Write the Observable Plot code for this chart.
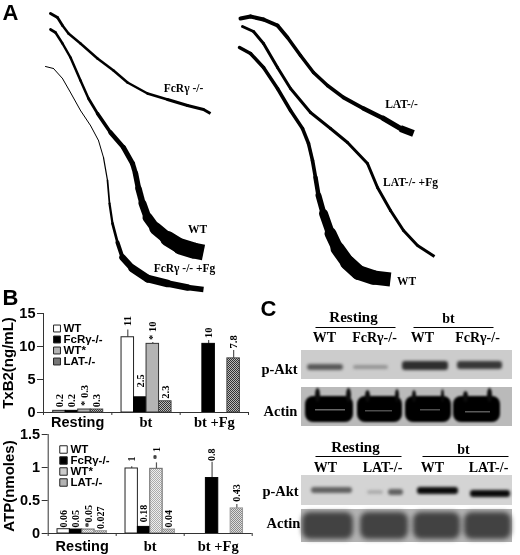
<!DOCTYPE html>
<html><head><meta charset="utf-8">
<script src="https://cdn.jsdelivr.net/npm/d3@7"></script>
<script src="https://cdn.jsdelivr.net/npm/@observablehq/plot@0.6"></script>
<style>
html,body{margin:0;padding:0;background:#fff}
#fig{position:relative;width:520px;height:555px;overflow:hidden;filter:blur(.3px)}
#fig svg{position:absolute;left:0;top:0;background:transparent;overflow:visible}
</style></head><body><div id="fig"></div>
<script>
// ---------- Panel A traces (x, y, thickness) ----------
const traceFcr = {x:[50,57,62,68,80,97,113,127,147,167,187,203,210],
                  y:[13,17,25,33,43,58,70,82,93,99,105,109,113],
                  w:[3,3,2.5,2.5,2.5,2.5,2.5,2.5,2.5,3,3,3,3]};
const traceWtA = {x:[50,55,62,70,80,88,97,110,123,132,135,138,142,147,155,167,180,193,203],
                  y:[29,32,43,57,80,98,113,132,147,163,173,188,203,217,228,238,246,250,252],
                  w:[3,2.5,2.5,2.5,2.5,2.5,3,4,5,5,5,6,7,9,11,14,16,16,16]};
const traceFcrFg = {x:[45,53,62,70,80,90,98,103,107,109,112,117,122,132,147,167,187,203],
                    y:[66,68,78,92,110,125,140,157,180,203,223,242,257,268,278,283,287,289],
                    w:[1,1,1,1,1,1,1,1,1.5,2,2.5,3,5,8,8,7,6,5]};
const traceLat = {x:[240,250,263,277,287,300,313,327,343,363,383,400,413],
                  y:[18,16,19,25,37,55,72,85,97,108,118,128,133],
                  w:[4,4,4,4,3.5,3.5,3.5,3.5,3.5,4,5,6,8]};
const traceLatFg = {x:[242,253,263,277,290,310,330,347,367,377,390,403,417,434],
                    y:[26,31,43,67,88,112,128,142,163,187,210,230,245,256],
                    w:[3,3,3,3,3,3,3,3,3,3,3,3,3,3]};
const traceWtB = {x:[239,250,263,277,290,302,308,312,315,318,323,330,337,347,358,373,390],
                  y:[47,53,67,88,110,128,143,160,177,195,213,233,248,262,272,277,279],
                  w:[3.5,3.5,3.5,3.5,3.5,3.5,3.5,3.5,4,5,7,11,13,15,15,14,14]};
const traceLabels = ["FcRγ -/-","WT","FcRγ -/- +Fg","LAT-/-","LAT-/- +Fg","WT"];
const traceLabelX = [183,197,184,401,410,406];
const traceLabelY = [88,229,268,104,182,281];

// ---------- Panel B ----------
const groups = ["Resting","bt","bt +Fg"];
const series = ["WT","FcRγ-/-","WT*","LAT-/-"];
const txb2      = [[0.25,0.25,0.45,0.45],[11.4,2.3,10.4,1.7],[null,10.4,null,8.2]];
const txb2Err   = [[null,null,null,null],[12.5,null,10.6,null],[null,10.9,null,9.4]];
const txb2Text  = [["0.2","0.2","* 0.3","0.3"],["11","2.5","* 10","2.3"],[null,"10",null,"7.8"]];
const txb2TextAt= [[0.8,0.8,1.0,0.8],[13.1,3.8,11,2.1],[null,11.3,null,9.7]];
const atp       = [[0.065,0.06,0.06,0.035],[0.985,0.1,0.98,0.06],[null,0.84,null,0.38]];
const atpErr    = [[null,null,null,null],[1.01,null,1.07,null],[null,1.08,null,0.44]];
const atpText   = [["0.06","0.05","*0.05","0.027"],["1","0.18","* 1","0.04"],[null,"0.8",null,"0.43"]];
const atpTextAt = [[0.09,0.09,0.09,0.07],[1.09,0.17,1.12,0.09],[null,1.1,null,0.48]];

// ---------- Panel C blots: [x1,x2,y1,y2,darkness] ----------
const blotBack = [[301,512,350,379,.2],[301,512,387,426,.27],[301,512,475,505,.17],[301,512,509,542,.3]];
const blotThin = [
 [307,343,364,370,.65],[353,388,365,369,.42],[402,448,361,370,.82],[457,502,361,369,.78],
 [311,352,487,493,.62],[367,383,490,494,.32],[388,403,489,495,.62],[417,458,487,494,.96],[470,510,490,497,.96]
];
const blotActinDark = [
 [305,353,396,422,1],[357,402,396,422,1],[405,451,396,422,1],[453,500,396,422,1],
 [315,320,388,402,.95],[346,351,388,402,.95],[365,370,390,402,.95],[395,399,389,402,.95],
 [412,416,390,402,.95],[441,444,389,402,.95],[463,468,391,402,.95],[487,492,388,402,.95]
];
const blotActinGrey = [[302,353,512,539,.74],[360,408,512,539,.74],[413,460,512,539,.74],[464,511,512,539,.74]];
const blotStreaks = [[315,345,409,410.5,.6],[365,392,410,411.5,.7],[420,440,409,410.5,.7],[465,490,411,412.5,.65]];
const blotHeads = ["Resting","bt","WT","FcRγ-/-","WT","FcRγ-/-","Resting","bt","WT","LAT-/-","WT","LAT-/-"];
const blotHeadX = [353,448,324,374,422,477,355,463,325,382,432,488];
const blotHeadY = [317,318,337,337,337,337,447,449,467,467,467,467];
const blotRows = ["p-Akt","Actin","p-Akt","Actin"];
const blotRowX = [279,280,280,283];
const blotRowY = [369,411,491,523];
const blotLines = [[315,395,327],[413,493,327],[315,401,456],[422,508,456]];
const panelLetters = ["A","B","C"];
const panelX = [2,2,260];
const panelY = [12,297,308];

const fig = document.getElementById("fig");
const SERIF = "Liberation Serif", SANS = "Liberation Sans";
const W = 520, H = 555;
const base = {width:W,height:H,margin:0,style:{background:"transparent",fontFamily:SANS,fontWeight:"bold",color:"#000"}};

function hatchDefs(){
  return () => {
    const d = d3.create("svg:defs");
    const add = (id,a,b) => {
      const p = d.append("pattern").attr("id",id).attr("patternUnits","userSpaceOnUse").attr("width",2).attr("height",2);
      p.append("rect").attr("width",2).attr("height",2).attr("fill",b);
      p.append("rect").attr("width",1).attr("height",1).attr("fill",a);
      p.append("rect").attr("x",1).attr("y",1).attr("width",1).attr("height",1).attr("fill",a);
    };
    add("hatchDark","#333","#bbb");
    add("hatchLight","#aaa","#eee");
    add("hatchMid","#888","#ddd");
    return d.node();
  };
}

function traceMarks(t){
  const seg = d3.range(t.x.length-1).map(i=>({x1:t.x[i],y1:t.y[i],x2:t.x[i+1],y2:t.y[i+1],w:(t.w[i]+t.w[i+1])/2}));
  const link = (rows,cap)=>Plot.link(rows,{x1:"x1",y1:"y1",x2:"x2",y2:"y2",strokeWidth:"w",stroke:"#000",strokeLinecap:cap});
  return [link(seg.slice(0,-1),"round"),link(seg.slice(-1),"butt")];
}
const blotRect = (rows,rx,blur)=>Plot.rect(rows,{x1:d=>d[0],x2:d=>d[1],y1:d=>d[2],y2:d=>d[3],fill:d=>d[4],rx,imageFilter:`blur(${blur}px)`});

// Panels A and C share picture coordinates
fig.append(Plot.plot({...base,
  x:{axis:null,domain:[0,W],range:[0,W]},y:{axis:null,domain:[0,H],range:[0,H]},
  color:{type:"linear",domain:[0,1],range:["#fff","#000"]},
  marks:[
    ...[traceFcr,traceWtA,traceFcrFg,traceLat,traceLatFg,traceWtB].flatMap(traceMarks),
    Plot.text(traceLabels,{x:(d,i)=>traceLabelX[i],y:(d,i)=>traceLabelY[i],text:d=>d,fontFamily:SERIF,fontWeight:"bold",fontSize:11.5}),
    Plot.text(panelLetters,{x:(d,i)=>panelX[i],y:(d,i)=>panelY[i],text:d=>d,textAnchor:"start",fontSize:22,fontWeight:"bold"}),
    blotRect(blotBack,0,.6),
    blotRect(blotThin,3,1.5),
    blotRect(blotActinDark,8,1.3),
    blotRect(blotActinGrey,8,2.5),
    blotRect(blotStreaks,0,.4),
    Plot.link(blotLines,{x1:d=>d[0],x2:d=>d[1],y1:d=>d[2],y2:d=>d[2],stroke:"#000",strokeWidth:1}),
    Plot.text(blotHeads,{x:(d,i)=>blotHeadX[i],y:(d,i)=>blotHeadY[i],text:d=>d,fontFamily:SERIF,fontWeight:"bold",fontSize:d=>d==="Resting"?15:14}),
    Plot.text(blotRows,{x:(d,i)=>blotRowX[i],y:(d,i)=>blotRowY[i],text:d=>d,fontFamily:SERIF,fontWeight:"bold",fontSize:14.5})
  ]}));

// Panel B bar charts
function barChart(o){
  const rows = [];
  groups.forEach((g,gi)=>series.forEach((s,si)=>{
    const v = o.values[gi][si];
    if (v==null) return;
    const x1 = gi + o.first + si*o.step;
    rows.push({s,si,x1,x2:x1+o.step,xc:x1+o.step/2,v,err:o.err[gi][si],label:o.text[gi][si],at:o.at[gi][si]});
  }));
  return Plot.plot({...base,marginLeft:o.xr[0],marginTop:o.yr[1],marginBottom:H-o.yr[0],
    x:{axis:null,domain:[0,3],range:o.xr},y:{axis:null,domain:o.yd,range:o.yr},
    marks:[
      hatchDefs(),
      Plot.ruleX(rows.filter(d=>d.err!=null),{x:"xc",y1:"v",y2:"err",stroke:"#555",strokeWidth:1.2}),
      ...series.map((s,i)=>Plot.rect(rows.filter(d=>d.si===i),{x1:"x1",x2:"x2",y1:0,y2:"v",fill:o.fills[i],stroke:o.strokes[i],strokeWidth:1})),
      Plot.ruleX([0],{stroke:"#333",strokeWidth:1,y1:o.yd[0],y2:o.yd[1]}),
      Plot.ruleY([0],{x1:0,x2:3,stroke:"#333",strokeWidth:1.2}),
      Plot.axisY({ticks:o.ticks,tickFormat:d=>String(d),tickSize:6,tickPadding:2,fontSize:14.5,label:null,stroke:"#333"}),
      Plot.ruleX([0,1,2,3],{y1:0,y2:o.tickTo,stroke:"#333"}),
      Plot.text(rows,{x:"xc",y:"at",text:"label",rotate:-90,textAnchor:"start",fontFamily:SERIF,fontWeight:"bold",fontSize:o.labelSize}),
      Plot.text([o.title],{x:o.titleAt[0],y:o.titleAt[1],text:d=>d,rotate:-90,fontSize:15,fontWeight:"bold"}),
      Plot.text(groups.slice(0,1),{x:.5,y:o.groupAt,text:d=>d,fontSize:14.5,fontWeight:"bold"}),
      Plot.text(groups.slice(1),{x:(d,i)=>i+1.5,y:o.groupAt,text:d=>d,fontFamily:SERIF,fontSize:14.5,fontWeight:"bold"})
    ]});
}
fig.append(barChart({
  values:txb2,err:txb2Err,text:txb2Text,at:txb2TextAt,
  first:.142,step:.183,xr:[43,248],yd:[0,15],yr:[412,313],ticks:[0,5,10,15],tickTo:-.45,labelSize:10.5,
  fills:["#fff","#000","#b4b4b4","url(#hatchDark)"],strokes:["#222","#000","#333","#444"],
  title:"TxB2(ng/mL)",titleAt:[-.51,7.5],groupAt:-1.5}));
fig.append(barChart({
  values:atp,err:atpErr,text:atpText,at:atpTextAt,
  first:.137,step:.182,xr:[47.7,251.7],yd:[0,1.5],yr:[533,434],ticks:[0,.5,1,1.5],tickTo:-.045,labelSize:10,
  fills:["#fff","#000","url(#hatchLight)","url(#hatchMid)"],strokes:["#222","#000","#666","#999"],
  title:"ATP(nmoles)",titleAt:[-.58,.72],groupAt:-.19}));

// Legends
function legend(o){
  const rows = series.map(s=>({s}));
  return Plot.plot({...base,
    x:{axis:null,domain:[0,1],range:o.xr},y:{axis:null,type:"point",domain:series,range:o.yr},
    marks:[
      hatchDefs(),
      ...series.map((s,i)=>Plot.dot(rows.filter(d=>d.s===s),{x:()=>0,y:"s",symbol:"square",r:o.r,fill:o.fills[i],stroke:"#222",strokeWidth:1})),
      Plot.text(rows,{x:()=>1,y:"s",text:"s",textAnchor:"start",fontSize:11.5,fontWeight:"bold"})
    ]});
}
fig.append(legend({xr:[56.5,63],yr:[322,367],r:3.9,fills:["#fff","#000","#b4b4b4","url(#hatchDark)"]}));
fig.append(legend({xr:[63,70],yr:[443,488],r:4.2,fills:["#fff","#000","url(#hatchLight)","url(#hatchMid)"]}));
</script></body></html>
